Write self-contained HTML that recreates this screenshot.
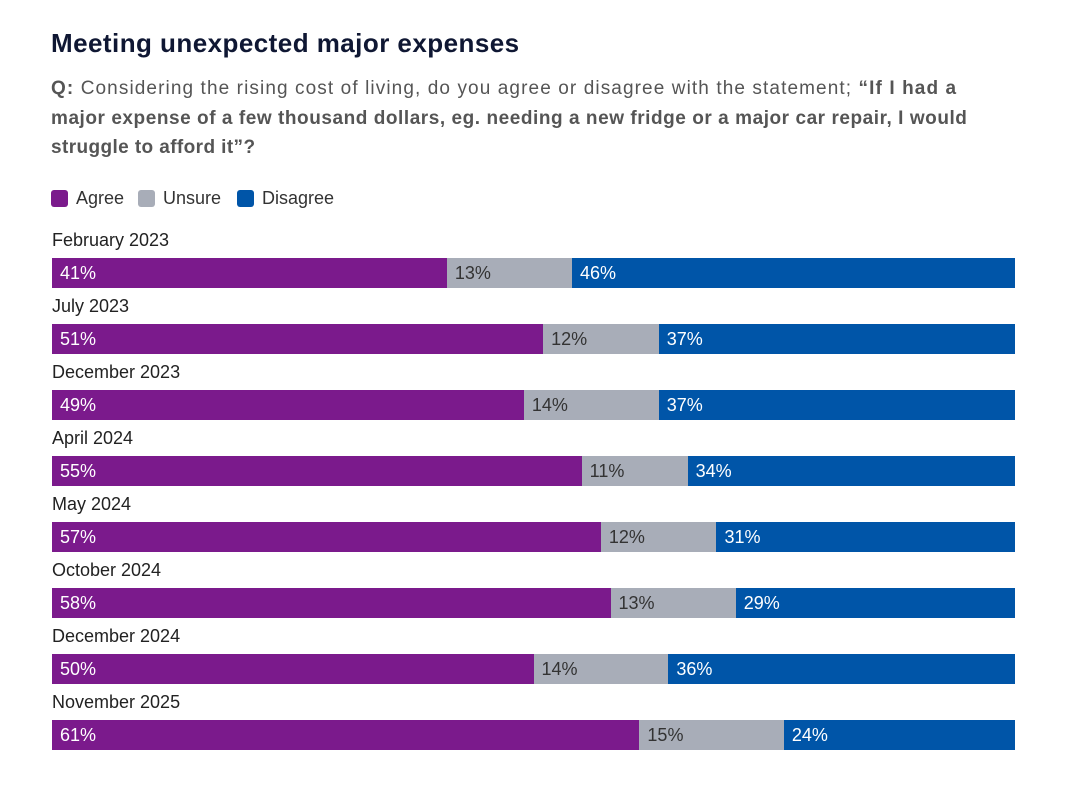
<!DOCTYPE html>
<html><head><meta charset="utf-8"><style>
body{margin:0;background:#fff;width:1068px;height:799px;overflow:hidden;font-family:"Liberation Sans",sans-serif;position:relative}
#title{position:absolute;left:51px;top:28px;font-size:26px;font-weight:bold;color:#0f1733;letter-spacing:0.45px}
#sub{position:absolute;left:51px;top:74px;white-space:nowrap;font-size:19px;line-height:29.5px;color:#555}
#sub b{color:#555}
.l1{letter-spacing:1.1px}.l2{letter-spacing:0.55px}.l3{letter-spacing:0.4px}
.leg{position:absolute;top:190px;height:17px;font-size:18px;color:#333;line-height:17px}
.sw{position:absolute;left:0;top:0;width:17px;height:17px;border-radius:3px}
.leg span.t{position:absolute;left:25px;top:0;white-space:nowrap}
.lab{position:absolute;left:52px;font-size:18px;color:#222}
.seg{position:absolute;height:30px;font-size:18px;line-height:30px;box-sizing:border-box;padding-left:8px;white-space:nowrap}
</style></head><body>
<div id="title">Meeting unexpected major expenses</div>
<div id="sub"><span class="l1"><b>Q:</b> Considering the rising cost of living, do you agree or disagree with the statement; <b>“If I had a</b></span><br><span class="l2"><b>major expense of a few thousand dollars, eg. needing a new fridge or a major car repair, I would</b></span><br><span class="l3"><b>struggle to afford it”?</b></span></div>
<div class="leg" style="left:51px"><div class="sw" style="background:#7b1a8c"></div><span class="t">Agree</span></div>
<div class="leg" style="left:138px"><div class="sw" style="background:#a8adb8"></div><span class="t">Unsure</span></div>
<div class="leg" style="left:237px"><div class="sw" style="background:#0055a8"></div><span class="t">Disagree</span></div>
<div id="chart"></div>
<script>
const categories=["February 2023","July 2023","December 2023","April 2024","May 2024","October 2024","December 2024","November 2025"];
const agree=[41,51,49,55,57,58,50,61];
const unsure=[13,12,14,11,12,13,14,15];
const disagree=[46,37,37,34,31,29,36,24];
const series=[{v:agree,c:"#7b1a8c",t:"#fff",n:"agree"},{v:unsure,c:"#a8adb8",t:"#333",n:"unsure"},{v:disagree,c:"#0055a8",t:"#fff",n:"disagree"}];
const X0=52,W=963,Y0=258,STEP=66;
const x=p=>X0+p/100*W;
const chart=document.getElementById('chart');
categories.forEach((cat,i)=>{
  const y=Y0+i*STEP;
  const l=document.createElement('div');l.className='lab';
  
  
  l.style.top=(y-28)+'px';l.textContent=cat;chart.appendChild(l);
  const tot=agree[i]+unsure[i]+disagree[i];
  let acc=0;
  series.forEach(s=>{
    const v=s.v[i]/tot*100;
    const d=document.createElement('div');d.className='seg';
    
    
    const a=x(acc),b=x(acc+v);
    d.style.left=a+'px';d.style.width=(b-a)+'px';d.style.top=y+'px';
    d.style.background=s.c;d.style.color=s.t;d.textContent=s.v[i]+'%';
    chart.appendChild(d);acc+=v;
  });
});
</script>
</body></html>
